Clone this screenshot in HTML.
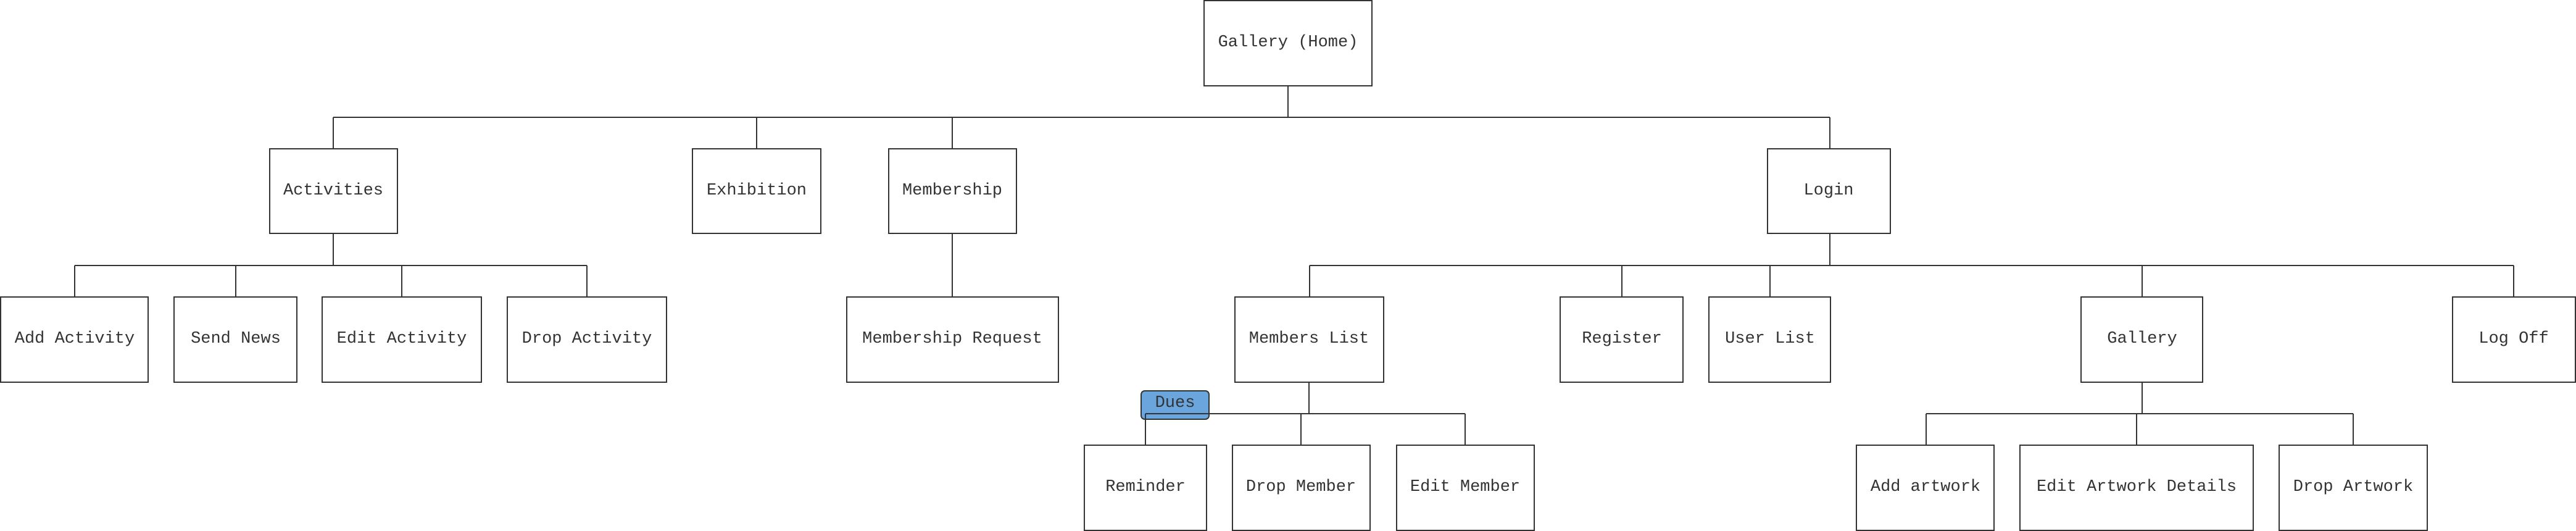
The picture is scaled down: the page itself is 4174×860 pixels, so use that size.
<!DOCTYPE html>
<html><head><meta charset="utf-8"><style>
html,body{margin:0;padding:0;background:#fff;}
svg{display:block;}
text{font-family:"Liberation Mono","DejaVu Sans Mono",monospace;font-size:27px;fill:#333;text-anchor:middle;dominant-baseline:central;}
</style></head><body>
<svg width="4174" height="860" viewBox="0 0 4174 860" xmlns="http://www.w3.org/2000/svg">
<g stroke="#333" stroke-width="2" fill="none">
<line x1="2087" y1="139" x2="2087" y2="190"/>
<line x1="540" y1="190" x2="2965" y2="190"/>
<line x1="540" y1="190" x2="540" y2="241"/>
<line x1="1226" y1="190" x2="1226" y2="241"/>
<line x1="1543" y1="190" x2="1543" y2="241"/>
<line x1="2965" y1="190" x2="2965" y2="241"/>
<line x1="540" y1="378" x2="540" y2="430"/>
<line x1="121" y1="430" x2="951" y2="430"/>
<line x1="121" y1="430" x2="121" y2="480"/>
<line x1="382" y1="430" x2="382" y2="480"/>
<line x1="651" y1="430" x2="651" y2="480"/>
<line x1="951" y1="430" x2="951" y2="480"/>
<line x1="1543" y1="378" x2="1543" y2="480"/>
<line x1="2965" y1="378" x2="2965" y2="430"/>
<line x1="2122" y1="430" x2="4073" y2="430"/>
<line x1="2122" y1="430" x2="2122" y2="480"/>
<line x1="2628" y1="430" x2="2628" y2="480"/>
<line x1="2868" y1="430" x2="2868" y2="480"/>
<line x1="3471" y1="430" x2="3471" y2="480"/>
<line x1="4073" y1="430" x2="4073" y2="480"/>
<line x1="3471" y1="619" x2="3471" y2="670"/>
<line x1="3121" y1="670" x2="3813" y2="670"/>
<line x1="3121" y1="670" x2="3121" y2="721"/>
<line x1="3462" y1="670" x2="3462" y2="721"/>
<line x1="3813" y1="670" x2="3813" y2="721"/>
</g>
<rect x="1849" y="633" width="110" height="46" rx="6" fill="#6aa6dd" stroke="#333" stroke-width="2"/>
<text x="1904" y="653">Dues</text>
<g stroke="#333" stroke-width="2" fill="none">
<line x1="2121" y1="619" x2="2121" y2="670"/>
<line x1="1856" y1="670" x2="2374" y2="670"/>
<line x1="1856" y1="670" x2="1856" y2="721"/>
<line x1="2108" y1="670" x2="2108" y2="721"/>
<line x1="2374" y1="670" x2="2374" y2="721"/>
</g>
<g stroke="#333" stroke-width="2" fill="#fff">
<rect x="1951" y="1" width="272" height="138"/>
<rect x="437" y="241" width="207" height="137"/>
<rect x="1122" y="241" width="208" height="137"/>
<rect x="1440" y="241" width="207" height="137"/>
<rect x="2864" y="241" width="199" height="137"/>
<rect x="1" y="481" width="239" height="138"/>
<rect x="282" y="481" width="199" height="138"/>
<rect x="522" y="481" width="258" height="138"/>
<rect x="822" y="481" width="258" height="138"/>
<rect x="1372" y="481" width="343" height="138"/>
<rect x="2001" y="481" width="241" height="138"/>
<rect x="2528" y="481" width="199" height="138"/>
<rect x="2769" y="481" width="197" height="138"/>
<rect x="3372" y="481" width="197" height="138"/>
<rect x="3974" y="481" width="199" height="138"/>
<rect x="1757" y="721" width="198" height="138"/>
<rect x="1997" y="721" width="223" height="138"/>
<rect x="2263" y="721" width="223" height="138"/>
<rect x="3008" y="721" width="223" height="138"/>
<rect x="3273" y="721" width="378" height="138"/>
<rect x="3693" y="721" width="240" height="138"/>
</g>
<text x="2087" y="69">Gallery (Home)</text>
<text x="540" y="309">Activities</text>
<text x="1226" y="309">Exhibition</text>
<text x="1543" y="309">Membership</text>
<text x="2963" y="309">Login</text>
<text x="121" y="549">Add Activity</text>
<text x="382" y="549">Send News</text>
<text x="651" y="549">Edit Activity</text>
<text x="951" y="549">Drop Activity</text>
<text x="1543" y="549">Membership Request</text>
<text x="2121" y="549">Members List</text>
<text x="2628" y="549">Register</text>
<text x="2868" y="549">User List</text>
<text x="3471" y="549">Gallery</text>
<text x="4073" y="549">Log Off</text>
<text x="1856" y="789">Reminder</text>
<text x="2108" y="789">Drop Member</text>
<text x="2374" y="789">Edit Member</text>
<text x="3120" y="789">Add artwork</text>
<text x="3462" y="789">Edit Artwork Details</text>
<text x="3813" y="789">Drop Artwork</text>
</svg>
</body></html>
